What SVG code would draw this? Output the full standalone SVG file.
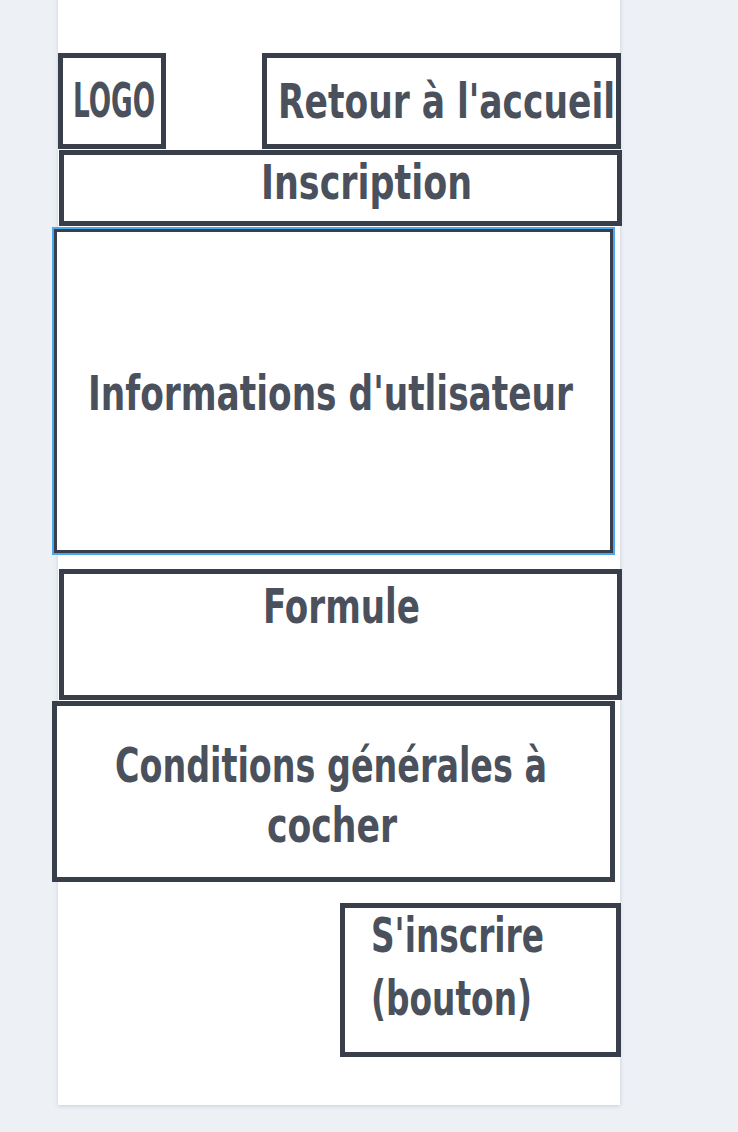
<svg xmlns="http://www.w3.org/2000/svg" width="738" height="1132" viewBox="0 0 738 1132">
  <defs>
    <filter id="sh" x="-5%" y="-5%" width="110%" height="110%">
      <feDropShadow dx="0" dy="1" stdDeviation="2" flood-color="#9aa3b5" flood-opacity="0.45"/>
    </filter>
    <style>
      .box { fill: #ffffff; stroke: #383f4a; stroke-width: 5; }
      .lbl { font-family: "DejaVu Sans", "Liberation Sans", sans-serif; font-stretch: condensed; font-weight: bold; fill: #4a515c; font-size: 48px; }
    </style>
  </defs>
  <rect x="0" y="0" width="738" height="1132" fill="#edf0f5"/>
  <rect x="58" y="-10" width="562" height="1115" fill="#ffffff" filter="url(#sh)"/>

  <g id="logo">
    <rect class="box" x="60.5" y="55.5" width="103" height="91"/>
    <text class="lbl" x="73" y="117" font-size="43" textLength="82" lengthAdjust="spacingAndGlyphs">LOGO</text>
  </g>
  <g id="retour">
    <rect class="box" x="264.5" y="55.5" width="354" height="91"/>
    <text class="lbl" x="278" y="118" textLength="337" lengthAdjust="spacingAndGlyphs">Retour à l'accueil</text>
  </g>
  <g id="inscription">
    <rect class="box" x="61.5" y="152.5" width="558" height="71"/>
    <text class="lbl" x="261" y="199" textLength="211" lengthAdjust="spacingAndGlyphs">Inscription</text>
  </g>
  <g id="informations">
    <rect x="53" y="228" width="561" height="326" fill="none" stroke="#4aa8f0" stroke-width="2"/>
    <rect x="55.5" y="230.5" width="556" height="321" fill="#ffffff" stroke="#383f4a" stroke-width="3"/>
    <text class="lbl" x="88" y="410" textLength="485" lengthAdjust="spacingAndGlyphs">Informations d'utlisateur</text>
  </g>
  <g id="formule">
    <rect class="box" x="61.5" y="571.5" width="558" height="126"/>
    <text class="lbl" x="263" y="623" textLength="157" lengthAdjust="spacingAndGlyphs">Formule</text>
  </g>
  <g id="conditions">
    <rect class="box" x="54.5" y="703.5" width="558" height="176"/>
    <text class="lbl" x="115" y="782" textLength="432" lengthAdjust="spacingAndGlyphs">Conditions générales à</text>
    <text class="lbl" x="267" y="842" textLength="130" lengthAdjust="spacingAndGlyphs">cocher</text>
  </g>
  <g id="sinscrire">
    <rect class="box" x="342.5" y="905.5" width="276" height="149"/>
    <text class="lbl" x="371" y="952" textLength="173" lengthAdjust="spacingAndGlyphs">S'inscrire</text>
    <text class="lbl" x="371" y="1015" textLength="161" lengthAdjust="spacingAndGlyphs">(bouton)</text>
  </g>
  <g id="connectors"/>
</svg>
